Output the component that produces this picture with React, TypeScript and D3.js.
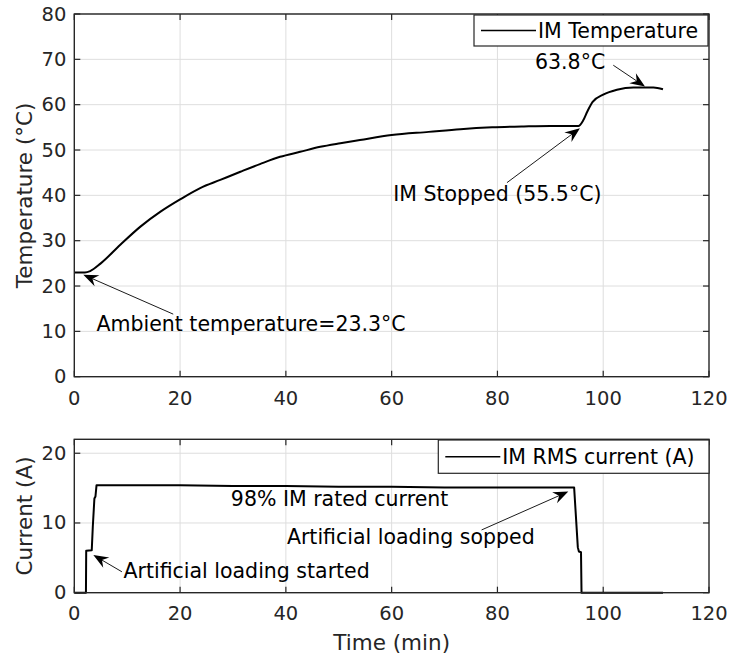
import * as d3 from 'd3';
import { useEffect, useRef } from 'react';

// temperature trace (min, °C)
const tempTime = [0, 2, 3, 5, 8.7, 12.5, 16.3, 20, 23.8, 27.6, 31.4, 35.1, 38.9, 42.7, 46.5, 50.3, 54, 60, 67, 73, 79, 85, 90, 95.3, 96.2, 97, 98, 100, 102.6, 105.7, 109.5, 111.3];
const tempValues = [23.0, 23.0, 23.3, 25.0, 29.1, 33.1, 36.4, 39.1, 41.6, 43.4, 45.2, 46.9, 48.5, 49.6, 50.7, 51.5, 52.2, 53.3, 54.0, 54.6, 55.0, 55.2, 55.3, 55.3, 56.5, 58.5, 60.6, 62.2, 63.3, 63.8, 63.8, 63.4];

// RMS current trace (min, A)
const currTime = [0, 2.2, 2.25, 3.3, 3.5, 3.8, 4.0, 4.2, 10, 20, 30, 40, 50, 60, 70, 80, 90, 94.5, 95.2, 95.4, 95.8, 95.9, 111.3];
const currValues = [0, 0, 6.0, 6.1, 9.5, 13.5, 13.8, 15.4, 15.4, 15.4, 15.3, 15.3, 15.2, 15.2, 15.1, 15.1, 15.1, 15.1, 6.5, 5.9, 5.8, 0, 0];

const xTicks = [0, 20, 40, 60, 80, 100, 120];
const tempTicks = [0, 10, 20, 30, 40, 50, 60, 70, 80];
const currTicks = [0, 10, 20];

// annotations in data units: text position, arrow tail, arrow head
const tempNotes = [
  { text: 'Ambient temperature=23.3°C', tx: 4.2, ty: 10.1, x1: 18.7, y1: 13.8, x2: 1.7, y2: 22.5 },
  { text: 'IM Stopped (55.5°C)', tx: 60.3, ty: 38.8, x1: 81.8, y1: 42.8, x2: 95.6, y2: 54.8 },
  { text: '63.8°C', tx: 87.1, ty: 67.8, x1: 101.9, y1: 68.7, x2: 107.9, y2: 64.0 },
];
const currNotes = [
  { text: '98% IM rated current', tx: 29.6, ty: 12.4 },
  { text: 'Artificial loading sopped', tx: 40.2, ty: 7.0, x1: 77.0, y1: 9.0, x2: 93.4, y2: 14.5 },
  { text: 'Artificial loading started', tx: 9.3, ty: 2.1, x1: 9.0, y1: 3.0, x2: 3.6, y2: 5.4 },
];

const FONT = '"DejaVu Sans", Verdana, sans-serif';
const AXIS = '#262626';

export default function App() {
  const ref = useRef<SVGSVGElement>(null);

  useEffect(() => {
    const svg = d3.select(ref.current);
    svg.selectAll('*').remove();

    const left = 74.3, right = 709;
    const x = d3.scaleLinear().domain([0, 120]).range([left, right]);

    const drawPanel = (opts) => {
      const { y, ticks, times, values, ylabel, legend, legendBox, notes, tickY, curve } = opts;
      const [yb, yt] = y.range();
      const g = svg.append('g');

      // grid
      g.selectAll('line.gx').data(xTicks.slice(1, -1)).enter().append('line')
        .attr('x1', d => x(d)).attr('x2', d => x(d)).attr('y1', yt).attr('y2', yb)
        .attr('stroke', '#dedede').attr('stroke-width', 1);
      g.selectAll('line.gy').data(ticks.slice(1)).enter().append('line')
        .attr('x1', left).attr('x2', right).attr('y1', d => y(d)).attr('y2', d => y(d))
        .attr('stroke', '#dedede').attr('stroke-width', 1);

      // ticks on all four sides, pointing inward
      const tl = 6;
      xTicks.forEach(d => {
        g.append('line').attr('x1', x(d)).attr('x2', x(d)).attr('y1', yb).attr('y2', yb - tl).attr('stroke', AXIS).attr('stroke-width', 1.2);
        g.append('line').attr('x1', x(d)).attr('x2', x(d)).attr('y1', yt).attr('y2', yt + tl).attr('stroke', AXIS).attr('stroke-width', 1.2);
      });
      ticks.forEach(d => {
        g.append('line').attr('x1', left).attr('x2', left + tl).attr('y1', y(d)).attr('y2', y(d)).attr('stroke', AXIS).attr('stroke-width', 1.2);
        g.append('line').attr('x1', right).attr('x2', right - tl).attr('y1', y(d)).attr('y2', y(d)).attr('stroke', AXIS).attr('stroke-width', 1.2);
      });

      // data line
      const line = d3.line<number>().x((d, i) => x(times[i])).y(d => y(d)).curve(curve);
      g.append('path').attr('d', line(values)).attr('fill', 'none').attr('stroke', '#000')
        .attr('stroke-width', 2).attr('stroke-linejoin', 'round');

      // box
      g.append('rect').attr('x', left).attr('y', yt).attr('width', right - left).attr('height', yb - yt)
        .attr('fill', 'none').attr('stroke', AXIS).attr('stroke-width', 1.4);

      // tick labels
      g.selectAll('text.xt').data(xTicks).enter().append('text')
        .attr('x', d => x(d)).attr('y', tickY).attr('text-anchor', 'middle').attr('dominant-baseline', 'central')
        .style('font-family', FONT).style('font-size', '19.5px').attr('fill', AXIS).text(d => d);
      g.selectAll('text.yt').data(ticks).enter().append('text')
        .attr('x', left - 8).attr('y', d => y(d)).attr('text-anchor', 'end').attr('dominant-baseline', 'central')
        .style('font-family', FONT).style('font-size', '19.5px').attr('fill', AXIS).text(d => d);

      // y label
      g.append('text').attr('transform', `translate(24,${(yt + yb) / 2}) rotate(-90)`)
        .attr('text-anchor', 'middle').attr('dominant-baseline', 'central')
        .style('font-family', FONT).style('font-size', '21.5px').attr('fill', AXIS).text(ylabel);

      // legend
      const [bx0, by0, bx1, by1] = legendBox;
      g.append('rect').attr('x', bx0).attr('y', by0).attr('width', bx1 - bx0).attr('height', by1 - by0)
        .attr('fill', '#fff').attr('stroke', AXIS).attr('stroke-width', 1.2);
      const cy = (by0 + by1) / 2;
      g.append('line').attr('x1', bx0 + 7).attr('x2', bx0 + 62).attr('y1', cy).attr('y2', cy).attr('stroke', '#000').attr('stroke-width', 1.5);
      g.append('text').attr('x', bx0 + 64).attr('y', cy).attr('dominant-baseline', 'central')
        .style('font-family', FONT).style('font-size', '20.5px').attr('fill', '#000').text(legend);

      // annotations
      notes.forEach(n => {
        if (n.x1 !== undefined) {
          const ax1 = x(n.x1), ay1 = y(n.y1), ax2 = x(n.x2), ay2 = y(n.y2);
          const ang = Math.atan2(ay2 - ay1, ax2 - ax1);
          const L = 15, W = 6, notch = 10;
          const ux = Math.cos(ang), uy = Math.sin(ang);
          const px = -uy, py = ux;
          const bx = ax2 - ux * L, by = ay2 - uy * L;
          const nx = ax2 - ux * notch, ny = ay2 - uy * notch;
          g.append('line').attr('x1', ax1).attr('y1', ay1).attr('x2', nx).attr('y2', ny)
            .attr('stroke', '#000').attr('stroke-width', 0.9);
          g.append('path')
            .attr('d', `M${ax2},${ay2}L${bx + px * W},${by + py * W}L${nx},${ny}L${bx - px * W},${by - py * W}Z`)
            .attr('fill', '#000');
        }
        g.append('text').attr('x', x(n.tx)).attr('y', y(n.ty))
          .style('font-family', FONT).style('font-size', '20.5px').attr('fill', '#000').text(n.text);
      });
    };

    drawPanel({
      y: d3.scaleLinear().domain([0, 80]).range([376.7, 14]),
      ticks: tempTicks, times: tempTime, values: tempValues, curve: d3.curveMonotoneX,
      ylabel: 'Temperature (°C)', legend: 'IM Temperature', legendBox: [474, 15, 708, 46],
      notes: tempNotes, tickY: 398,
    });
    drawPanel({
      y: d3.scaleLinear().domain([0, 22]).range([592.7, 439.3]),
      ticks: currTicks, times: currTime, values: currValues, curve: d3.curveLinear,
      ylabel: 'Current (A)', legend: 'IM RMS current (A)', legendBox: [438.3, 440, 709, 473.3],
      notes: currNotes, tickY: 613,
    });

    svg.append('text').attr('x', x(60)).attr('y', 642).attr('text-anchor', 'middle').attr('dominant-baseline', 'central')
      .style('font-family', FONT).style('font-size', '21.5px').attr('fill', AXIS).text('Time (min)');

    return () => { svg.selectAll('*').remove(); };
  }, []);

  return (
    <svg ref={ref} width={729} height={655}
      style={{ position: 'absolute', left: 0, top: 0, background: '#fff' }} />
  );
}
